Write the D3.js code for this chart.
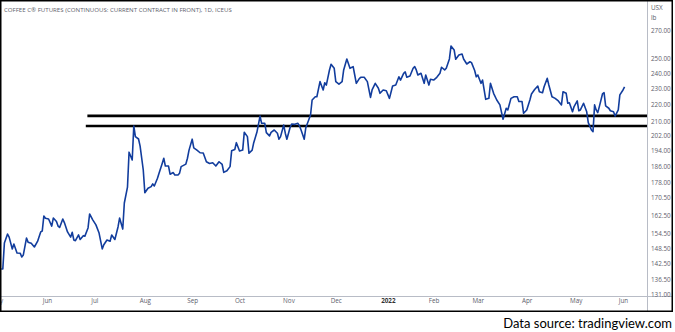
<!DOCTYPE html>
<html>
<head>
<meta charset="utf-8">
<script src="https://cdn.jsdelivr.net/npm/d3@7"></script>
<style>
  html, body { margin: 0; padding: 0; background: #fff; }
  svg { display: block; }
</style>
</head>
<body>
<svg id="chart" width="675" height="332"></svg>
<script>
// ---------------- DATA ----------------
const title = "COFFEE C\u00AE FUTURES (CONTINUOUS: CURRENT CONTRACT IN FRONT), 1D, ICEUS";
const dates = [
"2021-05-03","2021-05-04","2021-05-05","2021-05-07","2021-05-08","2021-05-10","2021-05-11","2021-05-13","2021-05-15","2021-05-16",
"2021-05-17","2021-05-19","2021-05-20","2021-05-22","2021-05-24","2021-05-26","2021-05-28","2021-05-29","2021-05-30","2021-05-31",
"2021-06-02","2021-06-04","2021-06-05","2021-06-07","2021-06-08","2021-06-09","2021-06-11","2021-06-12","2021-06-14","2021-06-16",
"2021-06-17","2021-06-18","2021-06-19","2021-06-21","2021-06-22","2021-06-24","2021-06-25","2021-06-27","2021-06-28","2021-06-30",
"2021-07-02","2021-07-04","2021-07-06","2021-07-07","2021-07-09","2021-07-11","2021-07-12","2021-07-14","2021-07-15","2021-07-16",
"2021-07-17","2021-07-19","2021-07-20","2021-07-22","2021-07-23","2021-07-25","2021-07-26","2021-07-27","2021-07-29","2021-07-30",
"2021-08-01","2021-08-02","2021-08-04","2021-08-06","2021-08-07","2021-08-08","2021-08-10","2021-08-11","2021-08-13","2021-08-14",
"2021-08-15","2021-08-17","2021-08-18","2021-08-20","2021-08-21","2021-08-23","2021-08-24","2021-08-25","2021-08-28","2021-08-29",
"2021-08-30","2021-09-01","2021-09-02","2021-09-04","2021-09-06","2021-09-08","2021-09-10","2021-09-12","2021-09-14","2021-09-16",
"2021-09-18","2021-09-20","2021-09-21","2021-09-23","2021-09-25","2021-09-26","2021-09-28","2021-09-29","2021-10-01","2021-10-03",
"2021-10-04","2021-10-06","2021-10-07","2021-10-09","2021-10-10","2021-10-12","2021-10-14","2021-10-15","2021-10-17","2021-10-18",
"2021-10-20","2021-10-21","2021-10-23","2021-10-25","2021-10-26","2021-10-27","2021-10-29","2021-10-30","2021-10-31","2021-11-02",
"2021-11-03","2021-11-05","2021-11-07","2021-11-08","2021-11-09","2021-11-11","2021-11-12","2021-11-15","2021-11-16","2021-11-18",
"2021-11-19","2021-11-21","2021-11-23","2021-11-24","2021-11-25","2021-11-27","2021-11-28","2021-11-30","2021-12-01","2021-12-03",
"2021-12-05","2021-12-06","2021-12-08","2021-12-10","2021-12-12","2021-12-13","2021-12-14","2021-12-16","2021-12-17","2021-12-19",
"2021-12-21","2021-12-23","2021-12-24","2021-12-26","2021-12-28","2021-12-29","2021-12-31","2022-01-02","2022-01-04","2022-01-06",
"2022-01-08","2022-01-10","2022-01-11","2022-01-13","2022-01-14","2022-01-15","2022-01-17","2022-01-19","2022-01-20","2022-01-21",
"2022-01-22","2022-01-24","2022-01-26","2022-01-27","2022-01-29","2022-01-30","2022-02-01","2022-02-03","2022-02-05","2022-02-06",
"2022-02-08","2022-02-09","2022-02-11","2022-02-12","2022-02-14","2022-02-15","2022-02-17","2022-02-19","2022-02-20","2022-02-22",
"2022-02-24","2022-02-25","2022-02-27","2022-02-28","2022-03-01","2022-03-03","2022-03-04","2022-03-06","2022-03-08","2022-03-09",
"2022-03-11","2022-03-13","2022-03-15","2022-03-17","2022-03-19","2022-03-20","2022-03-22","2022-03-24","2022-03-26","2022-03-27",
"2022-03-29","2022-03-30","2022-04-01","2022-04-03","2022-04-04","2022-04-06","2022-04-08","2022-04-09","2022-04-11","2022-04-12",
"2022-04-14","2022-04-15","2022-04-17","2022-04-19","2022-04-21","2022-04-23","2022-04-24","2022-04-26","2022-04-27","2022-04-28",
"2022-04-30","2022-05-01","2022-05-03","2022-05-04","2022-05-05","2022-05-07","2022-05-09","2022-05-10","2022-05-12","2022-05-13",
"2022-05-14","2022-05-15","2022-05-16","2022-05-17","2022-05-19","2022-05-20","2022-05-21","2022-05-23","2022-05-24","2022-05-26",
"2022-05-27","2022-05-29","2022-05-30","2022-06-01","2022-06-02"
];
const prices = [
140.3,140.3,150.6,154.4,153.1,148.2,150.2,146.6,146.5,145.0,
145.8,152.7,151.0,150.5,149.0,151.3,155.3,155.7,162.2,161.2,
160.9,157.8,161.3,159.8,157.8,157.2,160.9,159.3,155.3,153.1,
155.1,151.9,151.6,154.0,152.1,153.7,153.5,157.0,163.1,160.5,
158.3,154.8,148.2,149.9,151.9,151.4,154.0,152.1,154.7,157.4,
161.3,156.5,168.1,175.6,193.2,189.1,207.6,201.6,200.3,196.4,
184.0,172.9,175.0,175.8,177.1,176.1,179.9,182.4,187.3,190.0,
186.0,186.0,181.9,182.7,181.5,181.5,182.4,185.7,187.0,190.0,
194.3,200.2,195.5,194.3,192.9,192.8,188.2,187.3,187.7,186.0,
188.2,186.8,182.8,183.6,185.7,193.9,194.6,198.3,193.8,194.3,
204.0,201.6,192.6,194.3,198.3,204.0,213.3,209.1,209.1,203.8,
202.0,204.0,205.3,203.5,200.2,201.6,208.1,203.5,200.2,206.6,
208.7,208.5,209.1,207.6,205.3,200.2,206.6,213.9,222.9,224.9,
224.9,234.4,229.1,233.7,232.2,242.0,245.8,243.1,234.4,232.8,
234.4,242.0,249.4,243.1,244.2,238.7,233.3,236.5,237.2,237.2,
234.4,224.5,229.1,233.3,230.2,227.0,229.1,228.6,223.9,231.6,
232.2,237.5,235.4,239.8,240.7,237.2,238.0,243.1,244.2,242.0,
238.7,239.8,233.3,238.7,232.2,235.9,235.4,237.2,239.8,243.8,
242.0,243.1,249.4,258.4,255.6,249.2,252.1,252.8,249.4,246.0,
247.5,246.9,241.6,237.5,238.7,233.3,235.4,223.3,223.9,233.3,
227.0,222.9,219.9,211.4,217.9,216.9,223.9,224.9,224.9,222.0,
222.0,214.9,216.9,222.9,226.6,229.4,231.6,228.0,227.4,231.1,
236.5,232.2,224.9,223.9,222.3,219.9,228.0,227.0,220.9,221.2,
215.8,218.9,222.3,216.4,216.9,220.9,215.8,209.5,205.3,204.4,
219.9,216.9,215.3,218.9,226.6,227.4,219.3,217.9,216.4,215.8,
213.3,216.9,226.0,229.1,231.1
];
const levels = [213.4, 207.6];
const levelStart = ["2021-07-27", "2021-07-26"];
const yTickValues = [131, 136.5, 142.5, 148.5, 154.5, 162.5, 170.5, 178, 186, 194, 202, 210, 220, 230, 240, 250, 270];
const xTickDates = ["2021-04-30","2021-06-01","2021-07-01","2021-08-02","2021-09-01","2021-10-01","2021-11-01","2021-12-01","2022-01-03","2022-02-01","2022-03-01","2022-04-01","2022-05-02","2022-06-01"];
const xTickLabels = ["May","Jun","Jul","Aug","Sep","Oct","Nov","Dec","2022","Feb","Mar","Apr","May","Jun"];
const unitLabels = ["USX", "lb"];
const sourceText = "Data source: tradingview.com";

// ---------------- CHART ----------------
const parse = d3.timeParse("%Y-%m-%d");
const data = dates.map((d, i) => ({ date: parse(d), value: prices[i] }));

const svg = d3.select("#chart");
const plotRight = 647, plotBottom = 296;
const font = "'Open Sans', 'DejaVu Sans', sans-serif";

const x = d3.scaleTime()
  .domain([parse("2021-06-01"), parse("2022-06-01")])
  .range([47, 623]);
const y = d3.scaleLog()
  .domain([131, 270])
  .range([294, 30]);

svg.append("defs").append("clipPath").attr("id", "plotclip")
  .append("rect").attr("x", 0).attr("y", 0).attr("width", plotRight).attr("height", plotBottom);

// price axis separator & time axis line
svg.append("line").attr("x1", plotRight + 0.5).attr("x2", plotRight + 0.5)
  .attr("y1", 0).attr("y2", 311).attr("stroke", "#b8bcc6").attr("stroke-width", 1);
svg.append("line").attr("x1", 0).attr("x2", 672)
  .attr("y1", plotBottom + 0.5).attr("y2", plotBottom + 0.5).attr("stroke", "#b8bcc6").attr("stroke-width", 1);

// title
svg.append("text").attr("x", 4).attr("y", 12)
  .attr("font-family", font).attr("font-size", 6.1).attr("fill", "#5d606b")
  .text(title);

const plot = svg.append("g").attr("clip-path", "url(#plotclip)");

// support / resistance lines
plot.selectAll("line.level").data(levels).join("line")
  .attr("class", "level")
  .attr("x1", (d, i) => x(parse(levelStart[i])) - 48)
  .attr("x2", plotRight)
  .attr("y1", d => y(d)).attr("y2", d => y(d))
  .attr("stroke", "#000").attr("stroke-width", 2.6);

// price line
plot.append("path").datum(data)
  .attr("fill", "none")
  .attr("stroke", "#123d9d")
  .attr("stroke-width", 1.6)
  .attr("stroke-linejoin", "round")
  .attr("d", d3.line().x(d => x(d.date)).y(d => y(d.value)));

// y axis labels (right)
const yAxis = d3.axisRight(y).tickValues(yTickValues).tickSize(0).tickPadding(0)
  .tickFormat(d => d3.format(".2f")(d));
const gy = svg.append("g").attr("transform", `translate(${plotRight + 4},0)`).call(yAxis);
gy.select(".domain").remove();
gy.selectAll("text").attr("font-family", font).attr("font-size", 6.3).attr("fill", "#5d606b");

svg.selectAll("text.unit").data(unitLabels).join("text")
  .attr("class", "unit")
  .attr("x", plotRight + 4).attr("y", (d, i) => 10 + i * 10)
  .attr("font-family", font).attr("font-size", 6.3).attr("fill", "#5d606b")
  .text(d => d);

// x axis labels
const xAxis = d3.axisBottom(x)
  .tickValues(xTickDates.map(parse)).tickSize(0).tickPadding(0)
  .tickFormat((d, i) => xTickLabels[i]);
const gx = svg.append("g").attr("transform", `translate(0,${plotBottom + 3})`).call(xAxis);
gx.select(".domain").remove();
gx.selectAll("text").attr("font-family", font).attr("font-size", 6.3)
  .attr("fill", (d, i) => xTickLabels[i] === "2022" ? "#333" : "#5d606b")
  .attr("font-weight", (d, i) => xTickLabels[i] === "2022" ? "bold" : "normal");

// outer frame
svg.append("rect").attr("x", 0.75).attr("y", 0.75).attr("width", 671.5).attr("height", 310.5)
  .attr("fill", "none").attr("stroke", "#000").attr("stroke-width", 1.5);

// source note
svg.append("text").attr("x", 672).attr("y", 328).attr("text-anchor", "end")
  .attr("font-family", "Lato, 'Open Sans', sans-serif").attr("font-size", 13).attr("fill", "#000")
  .text(sourceText);
</script>
</body>
</html>
